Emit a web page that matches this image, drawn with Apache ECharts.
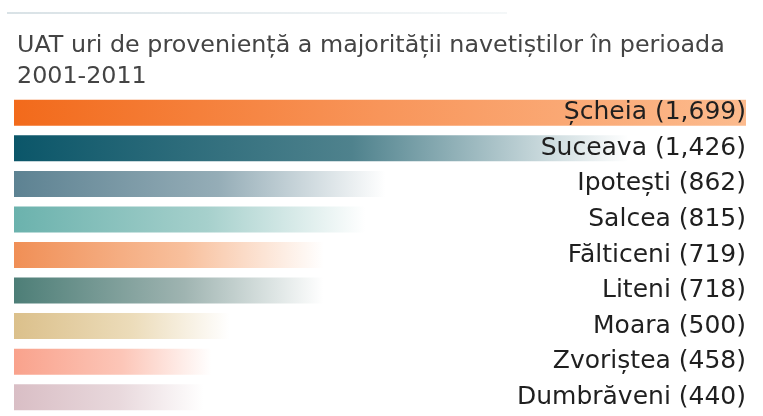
<!DOCTYPE html>
<html>
<head>
<meta charset="utf-8">
<script src="https://cdn.jsdelivr.net/npm/echarts@6/dist/echarts.min.js"></script>
<style>
  html, body { margin: 0; padding: 0; background: #fff; }
  #chart { width: 763px; height: 416px; }
</style>
</head>
<body>
<div id="chart"></div>
<script>
// date: UAT-uri de proveniență a navetiștilor
const categories = ['Șcheia', 'Suceava', 'Ipotești', 'Salcea', 'Fălticeni', 'Liteni', 'Moara', 'Zvoriștea', 'Dumbrăveni']
const values = [1699, 1426, 862, 815, 719, 718, 500, 458, 440]

// culori pentru gradient (început, mijloc, sfârșit)
const barColors = [
  ['#f26a1b', '#f8955a', '#fcbb8e'],
  ['#0b5669', '#4f828d', '#ffffff'],
  ['#5d8292', '#95adb7', '#ffffff'],
  ['#6bb2ad', '#a6d0cc', '#ffffff'],
  ['#f08f56', '#f8c09d', '#ffffff'],
  ['#4d7e77', '#9fb4b1', '#ffffff'],
  ['#dbc08b', '#ecdcba', '#ffffff'],
  ['#f9a28c', '#fcc6b8', '#ffffff'],
  ['#d9bec5', '#e8d8dc', '#ffffff']
]

const fmt = v => v.toLocaleString('en-US')

const chart = echarts.init(document.getElementById('chart'), null, { renderer: 'canvas' })

const option = {
  backgroundColor: '#ffffff',
  animation: false,
  title: {
    text: 'UAT uri de proveniență a majorității navetiștilor în perioada\n2001-2011',
    left: 12,
    top: 25,
    textStyle: {
      fontFamily: 'DejaVu Sans',
      fontSize: 23.8,
      fontWeight: 'normal',
      color: '#444444',
      lineHeight: 31
    }
  },
  graphic: [{
    type: 'rect',
    shape: { x: 7, y: 12, width: 500, height: 2 },
    style: {
      fill: new echarts.graphic.LinearGradient(0, 0, 1, 0, [
        { offset: 0, color: '#d9e2e6' },
        { offset: 1, color: '#f4f7f8' }
      ])
    }
  }],
  grid: { left: 14, right: 17, top: 95, bottom: 1, containLabel: false },
  xAxis: {
    type: 'value',
    min: 0,
    max: 1699,
    show: false
  },
  yAxis: {
    type: 'category',
    data: categories,
    inverse: true,
    position: 'right',
    z: 10,
    axisLine: { show: false },
    axisTick: { show: false },
    splitLine: { show: false },
    axisLabel: {
      inside: true,
      margin: 0,
      align: 'right',
      fontFamily: 'DejaVu Sans',
      fontSize: 25,
      color: '#1f1f1f',
      formatter: name => name + ' (' + fmt(values[categories.indexOf(name)]) + ')'
    }
  },
  series: [{
    type: 'bar',
    barWidth: 26,
    data: values.map((v, i) => ({
      value: v,
      itemStyle: {
        color: new echarts.graphic.LinearGradient(0, 0, 1, 0, [
          { offset: 0, color: barColors[i][0] },
          { offset: i === 0 ? 0.5 : 0.55, color: barColors[i][1] },
          { offset: 1, color: barColors[i][2] }
        ])
      }
    }))
  }]
}

chart.setOption(option)
</script>
</body>
</html>
